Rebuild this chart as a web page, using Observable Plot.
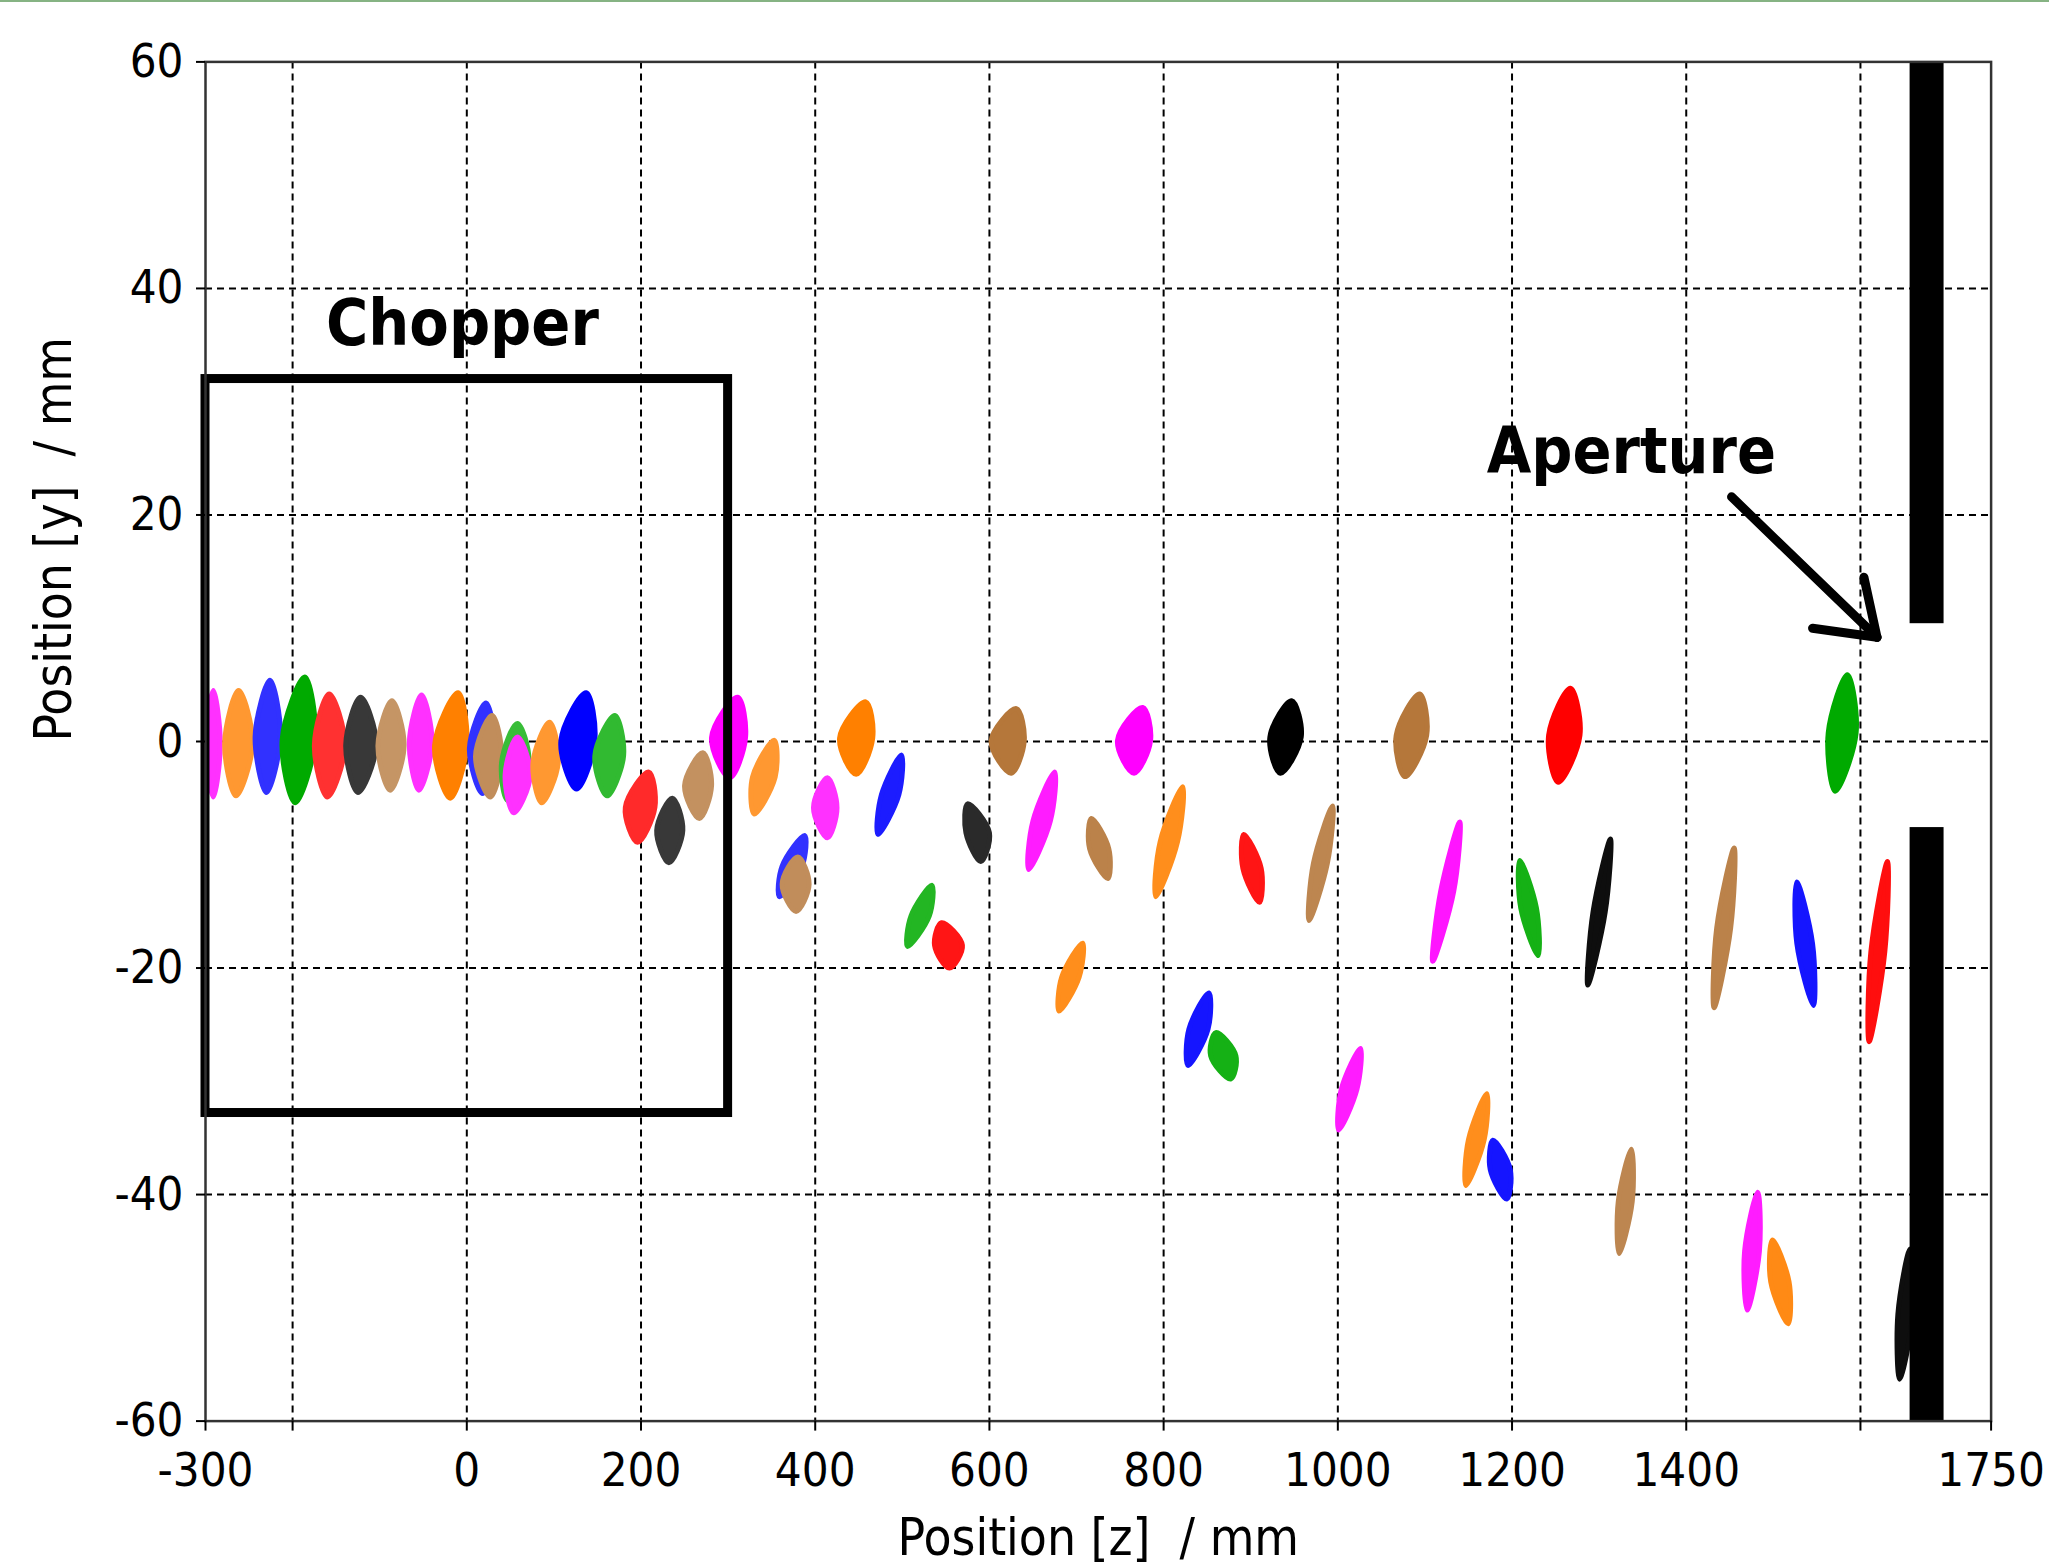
<!DOCTYPE html>
<html><head><meta charset="utf-8">
<script src="https://cdn.jsdelivr.net/npm/d3@7"></script>
<script src="https://cdn.jsdelivr.net/npm/@observablehq/plot@0.6"></script>
<style>
html,body{margin:0;padding:0;background:#fff;}
#chart{position:relative;width:2049px;height:1568px;overflow:hidden;}
#topline{position:absolute;left:0;top:0;width:2049px;height:2px;background:#86b383;}
</style></head><body>
<div id="chart"><div id="topline"></div></div>
<script>
// ---- axes ----
const xTicks = [-300, -200, 0, 200, 400, 600, 800, 1000, 1200, 1400, 1600, 1750];
const xTickLabels = ["-300", "", "0", "200", "400", "600", "800", "1000", "1200", "1400", "", "1750"];
const yTicks = [-60, -40, -20, 0, 20, 40, 60];
const xGrid = [-200, 0, 200, 400, 600, 800, 1000, 1200, 1400, 1600];
const yGrid = [-40, -20, 0, 20, 40];
const xLabel = "Position [z]  / mm";
const yLabel = "Position [y]  / mm";

// ---- particle bunches (z, y in mm) ----
const clusterColor = ["magenta","orange","blue","green","red","black","brown","magenta","orange","blue",
  "brown","green","magenta","orange","blue","green","red","black","brown","magenta",
  "orange","blue","brown","magenta","orange","blue","green","red","black","brown",
  "magenta","orange","brown","magenta","orange","blue","green","red","black","brown",
  "magenta","brown","magenta","orange","blue","green","red","black","brown","brown",
  "magenta","orange","blue","green","red","black"];
const topZ = [-291,-262,-226,-186,-158,-122,-86,-52,-10,22, 29,58,58,95,137,170,209,236,271,311,
  353,388,380,414,458,499,534,545,575,631, 675,707,717,776,822,852,860,892,947,994,
  1026,1094,1140,1171,1178,1209,1267,1313,1337,1455, 1482,1499,1527,1585,1631,1657];
const topY = [4.5,4.5,5.4,5.7,4.2,3.9,3.6,4.1,4.3,3.4, 2.3,1.6,0.4,1.7,4.3,2.3,-2.7,-5.0,-1.0,3.9,
  0.1,-8.3,-10.2,-3.2,3.5,-1.2,-12.7,-16.0,-5.5,2.9, -2.7,-17.8,-6.8,3.0,-4.0,-22.2,-25.7,-8.2,3.6,-5.7,
  -27.1,4.2,-7.1,-31.1,-35.2,-10.5,4.7,-8.6,-36.0,-9.4, -39.8,-44.0,-12.4,5.9,-10.6,-44.8];
const bottomZ = [-291,-265,-230,-197,-160,-125,-88,-55,-19,18, 27,47,54,86,126,161,196,232,267,302,
  330,359,378,414,447,472,506,554,590,625, 645,680,736,766,791,828,877,910,934,967,
  1001,1077,1109,1147,1194,1230,1253,1287,1323,1432, 1470,1517,1546,1571,1610,1645];
const bottomY = [-4.9,-4.8,-4.5,-5.4,-4.9,-4.5,-4.3,-4.3,-5.0,-4.6, -4.9,-5.2,-6.3,-5.4,-4.2,-4.8,-8.9,-10.7,-6.8,-3.2,
  -6.4,-13.7,-15.0,-8.5,-2.9,-8.2,-18.1,-20.0,-10.6,-2.8, -11.3,-23.8,-12.1,-2.8,-13.7,-28.6,-29.8,-14.2,-2.8,-15.8,
  -34.3,-3.1,-19.4,-39.2,-40.4,-18.9,-3.6,-21.5,-45.2,-23.5, -50.2,-51.4,-23.3,-4.4,-26.5,-56.3];
const leftZ = [-300,-278,-243,-212,-175,-139,-102,-66,-37,3, 10,40,44,76,108,147,182,218,250,281,
  328,362,362,398,428,476,510,537,573,602, 650,683,715,747,796,829,854,891,922,972,
  1004,1067,1118,1150,1175,1210,1242,1293,1322,1435, 1467,1497,1527,1563,1612,1643];
const rightZ = [-283,-246,-214,-174,-140,-104,-72,-40,0,32, 40,71,73,105,147,180,216,248,281,320,
  354,385,393,425,466,496,531,569,600,640, 670,703,737,785,816,851,883,912,958,988,
  1022,1102,1133,1168,1198,1228,1278,1307,1338,1451, 1484,1518,1545,1595,1628,1660];
const density = [0.65,0.65,0.65,1,0.65,0.6,0.6,0.65,1,0.65, 0.7,0.6,0.65,0.65,1,0.65,0.7,0.6,0.65,1,
  0.65,0.65,0.7,0.65,1,0.8,0.75,0.85,0.7,1, 0.8,0.8,0.85,1,0.8,0.85,0.85,0.85,1,0.8,
  0.8,1,0.85,0.8,0.85,0.85,1,0.9,0.8,0.85, 0.8,0.85,0.85,1,0.9,0.9];

// ---- apparatus ----
const chopperZ = [-300, 300];
const chopperY = [-32.8, 32];
const apertureZ = [1657, 1696];
const apertureUpperY = [10.4, 60];
const apertureLowerY = [-60, -7.6];
const arrowStart = [[1452, 21.6], [1545, 10.0], [1604, 14.5]];
const arrowTip = [1619, 9.2];
const annotationText = ["Chopper", "Aperture"];
const annotationZ = [-5, 1337];
const annotationY = [35.0, 23.7];

const palette = {magenta:"#ff00ff", orange:"#ff8000", blue:"#0000ff", green:"#00aa00",
  red:"#ff0000", black:"#000000", brown:"#b5773a"};

// outline of each bunch: bottom tip, left edge, top tip, right edge (closed smooth curve)
const outline = clusterColor.flatMap((c, i) => {
  const col = d3.interpolateRgb("#ffffff", palette[c])(0.45 + 0.55 * density[i]);
  const mid = (topY[i] + bottomY[i]) / 2;
  return [
    {id: i, z: bottomZ[i], y: bottomY[i], col},
    {id: i, z: leftZ[i], y: mid, col},
    {id: i, z: topZ[i], y: topY[i], col},
    {id: i, z: rightZ[i], y: mid, col}
  ];
});

const arrowSegs = arrowStart.map(([z, y]) => ({x1: z, y1: y, x2: arrowTip[0], y2: arrowTip[1]}));
const annotations = annotationText.map((t, i) => ({t, z: annotationZ[i], y: annotationY[i]}));
const apertureBars = [
  {x1: apertureZ[0], x2: apertureZ[1], y1: apertureUpperY[0], y2: apertureUpperY[1]},
  {x1: apertureZ[0], x2: apertureZ[1], y1: apertureLowerY[0], y2: apertureLowerY[1]}
];

const baseFont = '"DejaVu Sans Condensed", "DejaVu Sans", sans-serif';

const chart = Plot.plot({
  width: 2049, height: 1568,
  marginLeft: 205, marginRight: 58.4, marginTop: 61.4, marginBottom: 147.4,
  x: {domain: [-300, 1750]},
  y: {domain: [-60, 60]},
  style: {fontFamily: baseFont, fontSize: "47px", fontStretch: "condensed", color: "black", background: "white"},
  marks: [
    Plot.gridX(xGrid, {stroke: "black", strokeOpacity: 1, strokeWidth: 2, strokeDasharray: "7,5"}),
    Plot.gridY(yGrid, {stroke: "black", strokeOpacity: 1, strokeWidth: 2, strokeDasharray: "7,5"}),
    Plot.line(outline, {x: "z", y: "y", z: "id", fill: "col", stroke: "col",
      strokeWidth: 5, strokeLinejoin: "round", curve: "catmull-rom-closed"}),
    Plot.rect([0], {x1: () => chopperZ[0], x2: () => chopperZ[1], y1: () => chopperY[0], y2: () => chopperY[1],
      fill: "none", stroke: "black", strokeWidth: 9}),
    Plot.rect(apertureBars, {x1: "x1", x2: "x2", y1: "y1", y2: "y2", fill: "black"}),
    Plot.link(arrowSegs, {x1: "x1", y1: "y1", x2: "x2", y2: "y2", stroke: "black", strokeWidth: 9, strokeLinecap: "round"}),
    Plot.text(annotations, {x: "z", y: "y", text: "t", lineAnchor: "bottom", textAnchor: "middle",
      fontFamily: '"DejaVu Sans", sans-serif', fontWeight: "bold", fontSize: 64, fill: "black"}),
    Plot.frame({stroke: "#333", strokeWidth: 2.5}),
    Plot.axisX({ticks: xTicks, tickFormat: (d) => xTickLabels[xTicks.indexOf(d)], tickSize: 10, tickPadding: 22,
      strokeWidth: 2, label: null, fontSize: 47}),
    Plot.axisY({ticks: yTicks, tickFormat: (d) => String(d), tickSize: 9, tickPadding: 13,
      strokeWidth: 2, label: null, fontSize: 47}),
    Plot.text([xLabel], {frameAnchor: "bottom", dy: 134, lineAnchor: "bottom", fontSize: 51, text: (d) => d}),
    Plot.text([yLabel], {frameAnchor: "left", dx: -150.5, rotate: -90, lineAnchor: "middle", fontSize: 51, text: (d) => d})
  ]
});
document.getElementById("chart").prepend(chart);
</script>
</body></html>
